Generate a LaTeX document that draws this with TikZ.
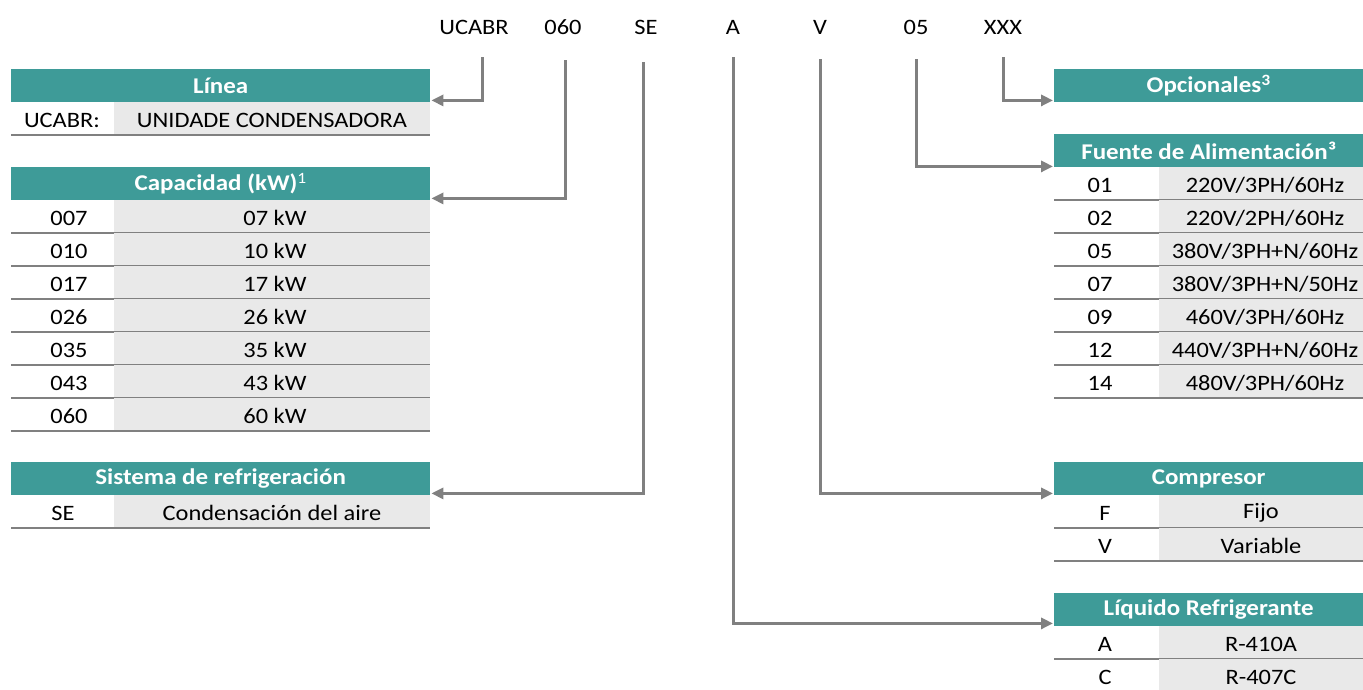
\documentclass[tikz,border=0pt]{standalone}
\usepackage{fontspec}
\setmainfont[FakeStretch=1.11]{Carlito}
\usetikzlibrary{calc,arrows.meta}
\definecolor{teal1}{RGB}{62,155,152}
\definecolor{cellgray}{RGB}{233,233,233}
\definecolor{linegray}{RGB}{128,128,128}
\tikzset{
  hdr/.style={fill=teal1, text=white, font=\fontsize{22.5}{27}\selectfont\bfseries, inner sep=0pt, anchor=north west, minimum height=33},
  codetxt/.style={font=\fontsize{22}{26}\selectfont, inner sep=0pt, minimum height=60},
  celltxt/.style={font=\fontsize{22}{26}\selectfont, inner sep=0pt},
  sepline/.style={draw=linegray, line width=2.2pt},
  conn/.style={draw=linegray, line width=3pt, -{Triangle[length=12pt,width=11pt]}}
}
% \mkrow{left}{divider}{right}{top}{name}{keyx}{key}{value}{valx}
\newcommand{\mkrow}[9]{%
  \fill[cellgray] (#2,#4) rectangle (#3,#4+33);
  \draw[sepline] (#1,#4+33) -- (#3,#4+33);
  \node[celltxt] (k#5) at (#6,#4+18) {#7};
  \node[celltxt] (v#5) at (#9,#4+18) {#8};
}
\begin{document}
\begin{tikzpicture}[x=1pt,y=-1pt]
\useasboundingbox (0,0) rectangle (1363,689);
\fill[white] (0,0) rectangle (1363,689);

% top codes
\node[codetxt] (cUCABR) at (474,27) {UCABR};
\node[codetxt] (c060) at (563,27) {060};
\node[codetxt] (cSE) at (646,27) {SE};
\node[codetxt] (cA) at (733,27) {A};
\node[codetxt] (cV) at (820,27) {V};
\node[codetxt] (c05) at (916,27) {05};
\node[codetxt] (cXXX) at (1003,27) {XXX};

% left tables
\node[hdr, minimum width=419] (hLinea) at (11,69) {Línea};
\mkrow{11}{114}{430}{102}{ucabr}{62}{UCABR:}{UNIDADE CONDENSADORA}{272}

\node[hdr, minimum width=419] (hCap) at (11,167) {Capacidad (kW)\textsuperscript{\mdseries 1}};
\mkrow{11}{114}{430}{200}{007}{69}{007}{07 kW}{275}
\mkrow{11}{114}{430}{233}{010}{69}{010}{10 kW}{275}
\mkrow{11}{114}{430}{266}{017}{69}{017}{17 kW}{275}
\mkrow{11}{114}{430}{299}{026}{69}{026}{26 kW}{275}
\mkrow{11}{114}{430}{332}{035}{69}{035}{35 kW}{275}
\mkrow{11}{114}{430}{365}{043}{69}{043}{43 kW}{275}
\mkrow{11}{114}{430}{398}{060}{69}{060}{60 kW}{275}

\node[hdr, minimum width=419] (hSis) at (11,462) {Sistema de refrigeración};
\mkrow{11}{114}{430}{495}{se}{63}{SE}{Condensación del aire}{272}

% right tables
\node[hdr, minimum width=309] (hOpc) at (1054,69) {Opcionales\textsuperscript{3}};

\node[hdr, minimum width=309] (hFue) at (1054,134) {Fuente de Alimentación³};
\mkrow{1054}{1159}{1363}{167}{01}{1100}{01}{220V/3PH/60Hz}{1265}
\mkrow{1054}{1159}{1363}{200}{02}{1100}{02}{220V/2PH/60Hz}{1265}
\mkrow{1054}{1159}{1363}{233}{05}{1100}{05}{380V/3PH+N/60Hz}{1265}
\mkrow{1054}{1159}{1363}{266}{07}{1100}{07}{380V/3PH+N/50Hz}{1265}
\mkrow{1054}{1159}{1363}{299}{09}{1100}{09}{460V/3PH/60Hz}{1265}
\mkrow{1054}{1159}{1363}{332}{12}{1100}{12}{440V/3PH+N/60Hz}{1265}
\mkrow{1054}{1159}{1363}{365}{14}{1100}{14}{480V/3PH/60Hz}{1265}

\node[hdr, minimum width=309] (hCom) at (1054,462) {Compresor};
\mkrow{1054}{1159}{1363}{495}{f}{1105}{F}{Fijo}{1261}
\mkrow{1054}{1159}{1363}{528}{v}{1105}{V}{Variable}{1261}

\node[hdr, minimum width=309] (hLiq) at (1054,593) {Líquido Refrigerante};
\mkrow{1054}{1159}{1363}{626}{a}{1105}{A}{R-410A}{1261}
\mkrow{1054}{1159}{1363}{659}{c}{1105}{C}{R-407C}{1261}

% connectors
\draw[conn] ($(cUCABR.south)+(8,0)$) |- ($(hLinea.south east)+(1,-2)$);
\draw[conn] ($(c060.south)+(2,3)$) |- ($(hCap.south east)+(1,-2)$);
\draw[conn] ($(cSE.south)+(-3,5)$) |- ($(hSis.south east)+(1,-2)$);
\draw[conn] (cA.south) |- ($(hLiq.south west)+(-1,-3)$);
\draw[conn] ($(cV.south)+(0,2)$) |- ($(hCom.south west)+(-1,-2)$);
\draw[conn] ($(c05.south)+(0,2)$) |- ($(hFue.south west)+(-1,-1)$);
\draw[conn] (cXXX.south) |- ($(hOpc.south west)+(-1,-2)$);
\end{tikzpicture}
\end{document}
